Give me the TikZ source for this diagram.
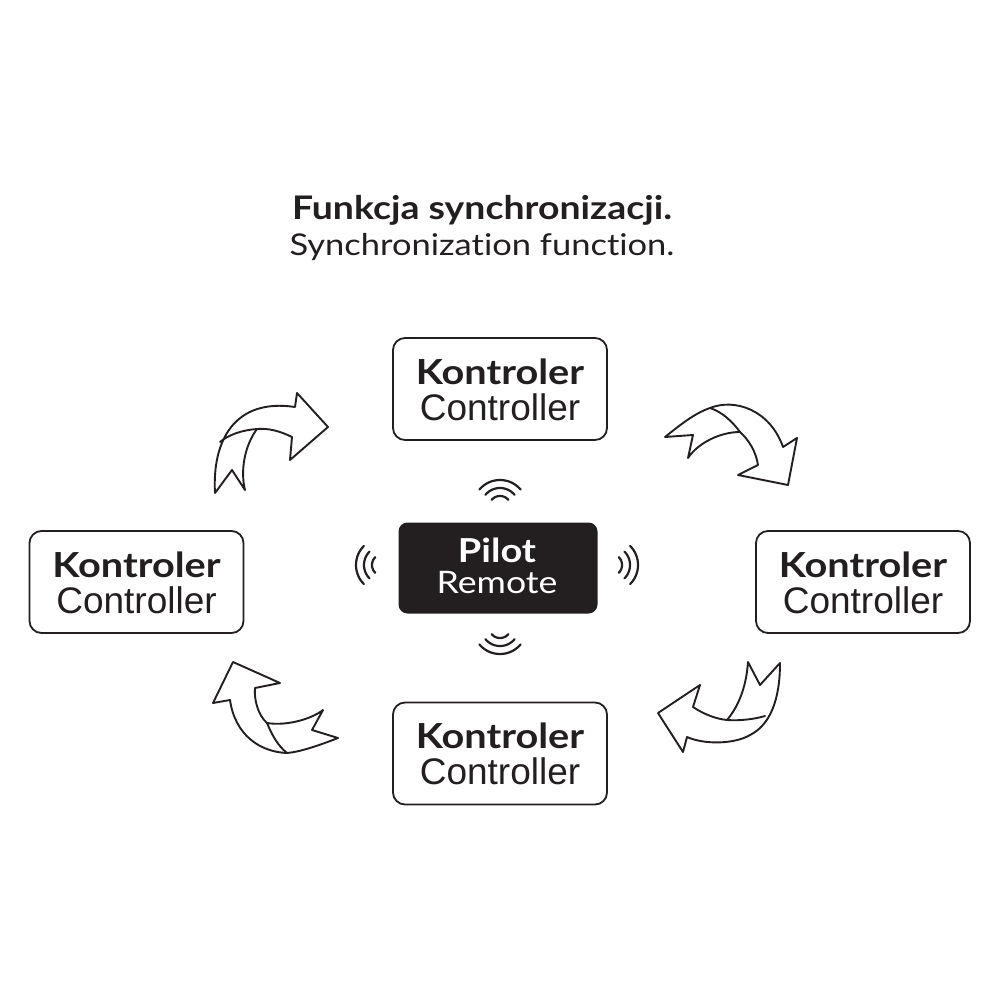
\documentclass[tikz,border=0pt]{standalone}
\usepackage{fontspec}
\setmainfont{Lato}[Ligatures=NoCommon]
\newfontfamily\latow{Lato}[FakeStretch=1.15, Ligatures=NoCommon]
\newfontfamily\arialf{Liberation Sans}
\definecolor{ink}{HTML}{231F20}
\begin{document}
\begin{tikzpicture}[x=1pt,y=-1pt,
  box/.style={draw=ink, line width=1.8pt, rounded corners=12pt, fill=white, minimum width=214pt, minimum height=102pt, inner sep=0pt},
  pilotbox/.style={fill=ink, rounded corners=9pt, minimum width=199pt, minimum height=91pt, inner sep=0pt},
  kt/.style={anchor=base, inner sep=0pt, text=ink, font=\latow\fontsize{34.5}{40}\selectfont\bfseries},
  ct/.style={anchor=base, inner sep=0pt, text=ink, font=\arialf\fontsize{37}{40}\selectfont},
  arr/.style={draw=ink, line width=1.9pt, fill=white, line join=round},
  fold/.style={draw=ink, line width=1.9pt, line cap=round},
  wave/.style={draw=ink, line width=2.2pt, line cap=round}]
\useasboundingbox[fill=white] (0,0) rectangle (1000,1000);

% title
\node[anchor=base, inner sep=0pt, text=ink, font=\latow\fontsize{32.5}{40}\selectfont\bfseries] (t1) at (482,220) {Funkcja synchronizacji.};
\node[anchor=base, inner sep=0pt, text=ink, font=\latow\fontsize{30}{40}\selectfont] (t2) at (482,255) {Synchronization function.};

% controller boxes
\node[box] (btop) at (500,389) {};
\node[kt] (btopk) at (500,384) {Kontroler};
\node[ct] (btopc) at (500,420) {Controller};

\node[box] (bleft) at (136.5,582) {};
\node[kt] (bleftk) at (136.5,577) {Kontroler};
\node[ct] (bleftc) at (136.5,613) {Controller};

\node[box] (bright) at (863,582) {};
\node[kt] (brightk) at (863,577) {Kontroler};
\node[ct] (brightc) at (863,613) {Controller};

\node[box] (bbot) at (500,753.5) {};
\node[kt] (bbotk) at (500,748) {Kontroler};
\node[ct] (bbotc) at (500,784) {Controller};

% pilot
\node[pilotbox] (pilot) at (498,568) {};
\node[anchor=base, inner sep=0pt, text=white, font=\latow\fontsize{33}{40}\selectfont\bfseries] (pilotk) at (497,562) {Pilot};
\node[anchor=base, inner sep=0pt, text=white, font=\latow\fontsize{31}{40}\selectfont] (pilotc) at (497,593) {Remote};

% waves
\foreach \r in {11,19,27}{
  \draw[wave] plot[domain=-50:50, samples=25] ({500+\r*sin(\x)}, {507-\r*cos(\x)});
  \draw[wave] plot[domain=-50:50, samples=25] ({500+\r*sin(\x)}, {627+\r*cos(\x)});
  \draw[wave] plot[domain=-45:45, samples=25] ({383-\r*cos(\x)}, {565+\r*sin(\x)});
  \draw[wave] plot[domain=-45:45, samples=25] ({611+\r*cos(\x)}, {565+\r*sin(\x)});
}

% arrow 1 (top-left)
\draw[arr] (215,493) .. controls (212,440) and (235,398) .. (295,407) -- (297,393) -- (328,427) -- (290,460) -- (292,437)
  .. controls (280,431) and (268,428) .. (257,429)
  .. controls (245,445) and (240,470) .. (245,490) -- (232,470) -- cycle;
\draw[fold] (257,429) .. controls (242,430) and (228,435) .. (220,442);

% arrow 2 (top-right)
\draw[arr] (665,437) .. controls (680,425) and (695,413) .. (710,408)
  .. controls (735,398) and (770,410) .. (783,447) -- (797,438) -- (788,485) -- (738,475) -- (758,465)
  .. controls (756,452) and (749,440) .. (740,432)
  .. controls (720,432) and (698,443) .. (688,458) -- (693,435) -- cycle;
\draw[fold] (740,432) .. controls (732,421) and (722,412) .. (710,408);

% arrow 3 (bottom-left)
\draw[arr] (233,662) -- (280,683) -- (255,688)
  .. controls (254,700) and (258,715) .. (267,723)
  .. controls (285,726) and (310,720) .. (323,710) -- (312,730) -- (338,738)
  .. controls (320,745) and (300,752) .. (287,753)
  .. controls (260,752) and (235,735) .. (230,700) -- (213,703) -- cycle;
\draw[fold] (267,723) .. controls (272,735) and (278,746) .. (287,753);

% arrow 4 (bottom-right)
\draw[arr] (658,713) -- (700,685) -- (693,707)
  .. controls (705,715) and (717,719) .. (727,720)
  .. controls (737,708) and (746,690) .. (748,662) -- (760,685) -- (780,663)
  .. controls (780,700) and (770,725) .. (750,735)
  .. controls (735,744) and (705,745) .. (687,737) -- (683,752) -- cycle;
\draw[fold] (727,720) .. controls (740,721) and (755,719) .. (765,716);
\end{tikzpicture}
\end{document}
